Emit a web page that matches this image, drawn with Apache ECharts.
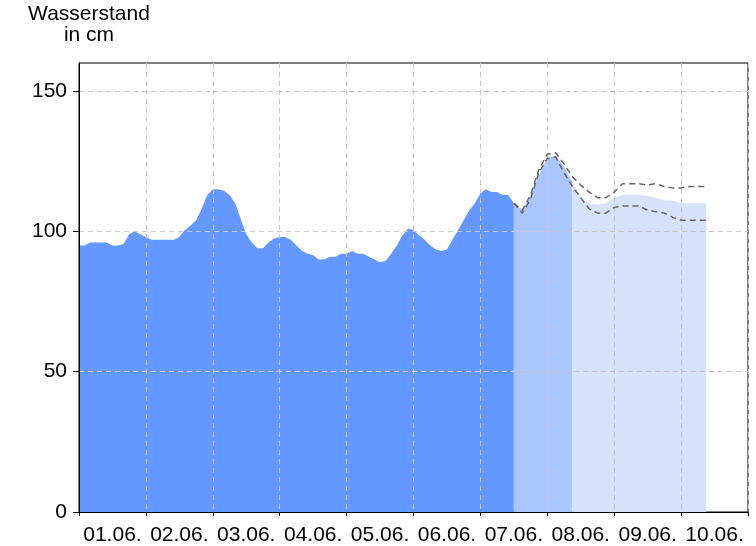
<!DOCTYPE html>
<html>
<head>
<meta charset="utf-8">
<title>Wasserstand</title>
<script src="https://cdn.jsdelivr.net/npm/echarts@6/dist/echarts.min.js"></script>
<style>
    html, body { margin: 0; padding: 0; background: #fff; }
    #main { width: 756px; height: 546px; }
</style>
</head>
<body>
<div id="main"></div>
<script>
// Tage an der x-Achse
var dayLabels = ['01.06.', '02.06.', '03.06.', '04.06.', '05.06.', '06.06.', '07.06.', '08.06.', '09.06.', '10.06.'];
var yTicks = [0, 50, 100, 150];

// Messwerte (cm), alle 2 h ab 01.06. 00:00
var messStart = 0, messStep = 2;
var messwerte = [95, 95, 96, 96, 96, 96, 95, 95, 95.5, 99,
    100, 99, 98, 97, 97, 97, 97, 97, 98, 100.5,
    102, 104, 108, 113, 115, 115, 114.5, 113, 110, 104.5,
    99, 96, 94, 94, 96, 97.5, 98, 98, 97, 95,
    93, 92, 91.5, 90, 90, 91, 91, 92, 92, 93,
    92, 92, 91, 90, 89, 89.5, 92, 95, 98.5, 101,
    100.5, 98.5, 97, 95, 93.5, 93, 93.5, 97, 100.5, 104,
    107.5, 110, 113.5, 115, 114, 114, 113, 113, 110];

// Vorhersage, alle 3 h ab 07.06. 12:00
var vorhStart = 156, vorhStep = 3;
var vorhersageNah = [110, 107.5, 112.5, 120, 126, 127, 123, 117.5];
var vorhersageFern = [117.5, 112, 110, 109.5, 110, 112, 113, 113, 113, 112.5, 112, 111, 111, 110, 110, 110, 110];
var obereGrenze = [110, 107.5, 113, 122, 127.5, 128, 124, 119.5, 116.5, 114, 112, 112, 114, 117, 117, 117, 116.5, 117, 116, 115.5, 115.5, 116, 116, 116];
var untereGrenze = [110, 106.5, 111.5, 121, 126, 126.5, 121, 116, 112, 108, 106.5, 106.5, 108.5, 109, 109, 109, 107.5, 107, 106.5, 105, 104, 104, 104, 104];

var PegelChart = function() {
    var font = "'Liberation Sans', Arial, sans-serif";
    var t = {
        init : function(id) {
            var chart = echarts.init(document.getElementById(id));
            chart.setOption(t.buildOption());
        },
        // [Stunde, Wert] Paare bauen
        toPairs : function(values, start, step) {
            var out = [];
            for (var i = 0; i < values.length; i++) {
                out.push([start + i * step, values[i]]);
            }
            return out;
        },
        areaSeries : function(name, data, color) {
            return {
                name : name,
                type : 'line',
                data : data,
                showSymbol : false,
                silent : true,
                z : 1,
                lineStyle : { width : 0, opacity : 0 },
                areaStyle : { color : color, opacity : 1 }
            };
        },
        dashSeries : function(name, data) {
            return {
                name : name,
                type : 'line',
                data : data,
                showSymbol : false,
                silent : true,
                z : 6,
                lineStyle : { color : '#666666', width : 1.5, type : [6, 4] }
            };
        },
        buildOption : function() {
            var nahStart = vorhStart;
            var fernStart = vorhStart + (vorhersageNah.length - 1) * vorhStep;
            var labelPos = [];
            for (var i = 0; i < dayLabels.length; i++) {
                labelPos.push(i * 24 + 12);
            }
            return {
                animation : false,
                textStyle : { fontFamily : font },
                grid : {
                    left : 79, right : 8, top : 63, bottom : 34,
                    show : true, borderColor : '#000', borderWidth : 1
                },
                graphic : [ {
                    type : 'text',
                    x : 89, y : 4,
                    style : {
                        text : 'Wasserstand\nin cm',
                        fontFamily : font,
                        fontSize : 21,
                        lineHeight : 21,
                        fill : '#000',
                        align : 'center',
                        verticalAlign : 'top'
                    }
                } ],
                xAxis : {
                    type : 'value',
                    min : 0, max : 240, interval : 24,
                    z : 4,
                    axisLine : { lineStyle : { color : '#000', width : 1 } },
                    axisTick : { show : true, length : 4, lineStyle : { color : '#000' } },
                    axisLabel : {
                        customValues : labelPos,
                        formatter : function(v) {
                            return dayLabels[Math.round((v - 12) / 24)];
                        },
                        fontSize : 21, color : '#000', margin : 13, fontFamily : font
                    },
                    splitLine : { show : true, lineStyle : { color : '#c8c8c8', type : [5, 4], width : 1 } }
                },
                yAxis : {
                    type : 'value',
                    min : 0, max : 160, interval : 50,
                    z : 4,
                    axisLine : { show : true, lineStyle : { color : '#000', width : 1 } },
                    axisTick : { show : true, length : 6, customValues : yTicks, lineStyle : { color : '#000' } },
                    axisLabel : { customValues : yTicks, fontSize : 21, color : '#000', margin : 12, fontFamily : font },
                    splitLine : { show : true, lineStyle : { color : '#c8c8c8', type : [5, 4], width : 1 } }
                },
                series : [
                    t.areaSeries('Messwerte', t.toPairs(messwerte, messStart, messStep), '#6497ff'),
                    t.areaSeries('Vorhersage', t.toPairs(vorhersageNah, nahStart, vorhStep), '#abc5ff'),
                    t.areaSeries('Abschätzung', t.toPairs(vorhersageFern, fernStart, vorhStep), '#d6e2fb'),
                    t.dashSeries('obere Grenze', t.toPairs(obereGrenze, vorhStart, vorhStep)),
                    t.dashSeries('untere Grenze', t.toPairs(untereGrenze, vorhStart, vorhStep))
                ]
            };
        }
    };
    return t;
}();

PegelChart.init('main');
</script>
</body>
</html>
